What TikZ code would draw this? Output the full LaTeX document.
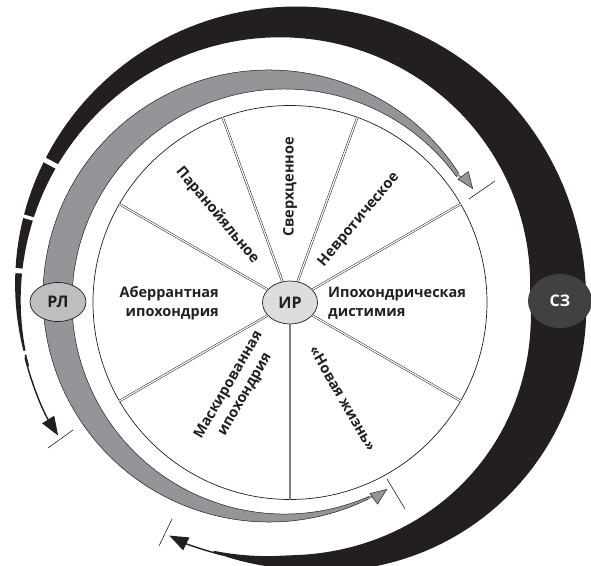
\documentclass[tikz,border=0pt]{standalone}
\usepackage{fontspec}
\setmainfont{Open Sans}
\usetikzlibrary{arrows.meta,shapes.geometric}

\definecolor{ink}{HTML}{231F20}
\definecolor{bandgray}{HTML}{939598}
\definecolor{rlgray}{HTML}{BCBEC0}
\definecolor{hubgray}{HTML}{DCDDDF}
\definecolor{szgray}{HTML}{414042}

\tikzset{
  sector/.style={font=\bfseries\fontsize{14.5}{19}\selectfont, text=ink, inner sep=0pt},
  hub/.style={ellipse, draw=ink, line width=0.7pt, inner sep=0pt,
    font=\bfseries\fontsize{16}{16}\selectfont, text=ink},
  spoke/.style={draw=ink, line width=0.5pt, double=white, double distance=1.2pt},
  graytip/.style={bandgray, line width=2pt,
    -{Triangle[length=17pt,width=13.5pt,color=ink,fill=bandgray,line width=0.5pt]}},
  blacktip/.style={ink, line width=1.4pt, -{Triangle[length=19pt,width=14pt]}},
  tick/.style={draw=ink, line width=0.6pt},
}

\begin{document}
\begin{tikzpicture}[x=1pt,y=1pt,
  declare function={
    bw(\w)=ifthenelse(\w<0,1.5+54.5*(1-(abs(\w)/106)^1.5),max(1.5,56-0.28*\w));
    rc(\w)=270+9*max(0,-sin(2*\w))*(\w<0);}]
\useasboundingbox (0,0) rectangle (591,565);

% centres
\coordinate (O) at (290,262.5);
\coordinate (bC) at (288,273);
\coordinate (gOut) at (269,269);
\coordinate (gIn) at (284.5,263.5);

% black band (SZ)
\fill[ink] plot[variable=\s,domain=-106:196,samples=160]
    ({288+(rc(\s)+bw(\s)/2)*cos(\s)},{273+(rc(\s)+bw(\s)/2)*sin(\s)})
  -- plot[variable=\s,domain=196:-106,samples=160]
    ({288+(rc(\s)-bw(\s)/2)*cos(\s)},{273+(rc(\s)-bw(\s)/2)*sin(\s)}) -- cycle;
\foreach \a/\g in {151.5/5,164/3.5,175.5/5,193/4}
  \draw[white, line width=\g pt] ([shift={(\a:245)}]bC) -- ([shift={(\a:300)}]bC);
\draw[blacktip] ([shift={(194:271)}]bC) arc[start angle=194, end angle=212, radius=271];
\draw[blacktip] ([shift={(-104:271)}]bC) arc[start angle=-104, end angle=-116, radius=271];

% grey band (RL)
\fill[bandgray, draw=ink, line width=0.5pt]
  ([shift={(33:226)}]gOut) arc[start angle=33, end angle=296, radius=226]
  -- ([shift={(293.5:212.5)}]gIn) arc[start angle=293.5, end angle=36, radius=212.5] -- cycle;
\coordinate (gTipA) at (473,376);
\coordinate (gTipB) at (387.3,76);
\draw[graytip] (457.5,390.2) to[out=-35,in=126] (gTipA);
\draw[graytip] (368.6,67.2) to[out=15,in=216] (gTipB);

% ticks
\draw[tick] (469,366) -- (495,384);
\draw[tick] (387,86) -- (405,56);
\draw[tick] (172,46) -- (159,19);
\draw[tick] (73,135) -- (48,117);

% wheel
\draw[ink, line width=0.7pt, fill=white] (O) circle[radius=197];
\node[hub, fill=hubgray, minimum width=55pt, minimum height=43pt] (IR) at (O) {ИР};
\foreach \a in {30,70,110,150,210,330}
  \draw[spoke] (IR) -- ([shift={(\a:197)}]O);
\draw[spoke, double=gray] (IR) -- ([shift={(270:197)}]O);

% sectors
\node[sector, rotate=90] (sverh) at ([shift={(90:115.6)}]O) {Сверхценное};
\node[sector, rotate=-50] (paran) at ([shift={(129.8:113.3)}]O) {Паранойяльное};
\node[sector, rotate=50] (nevr) at ([shift={(50.1:107.6)}]O) {Невротическое};
\node[sector, rotate=60, align=center] (mask) at ([shift={(238.8:102.2)}]O) {Маскированная\\ипохондрия};
\node[sector, rotate=-60] (novaya) at ([shift={(298.9:109.6)}]O) {«Новая жизнь»};
\node[sector, align=left, anchor=west] (dist) at (328,262) {Ипохондрическая\\дистимия};
\node[sector, align=right, anchor=east] (aber) at (219,262) {Аберрантная\\ипохондрия};

% side ellipses
\node[hub, fill=rlgray, minimum width=56pt, minimum height=39pt] (RL) at (58,263) {РЛ};
\node[hub, draw=none, fill=szgray, text=white, minimum width=64pt, minimum height=54pt] (SZ) at (560,264) {СЗ};
\end{tikzpicture}
\end{document}
